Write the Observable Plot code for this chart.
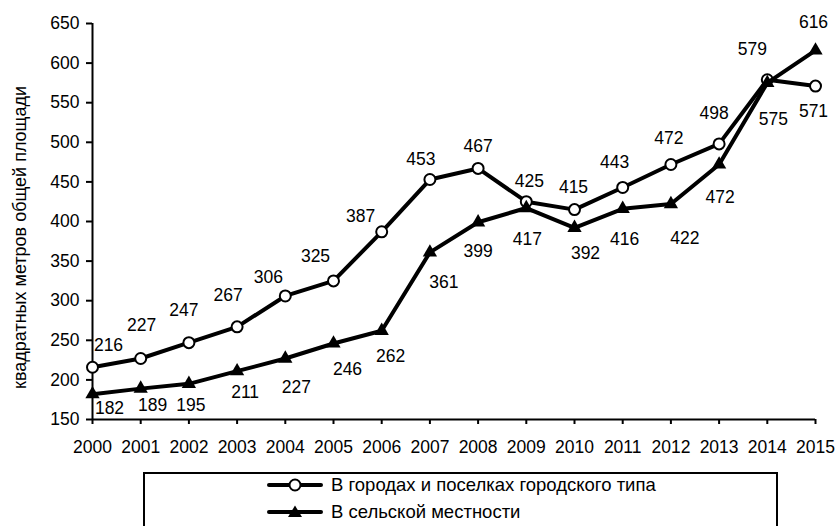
<!DOCTYPE html>
<html>
<head>
<meta charset="utf-8">
<script src="https://cdn.jsdelivr.net/npm/d3@7"></script>
<script src="https://cdn.jsdelivr.net/npm/@observablehq/plot@0.6"></script>
<style>
  body { margin: 0; background: #fff; font-family: "Liberation Sans", Arial, sans-serif; }
  #wrap { position: relative; width: 835px; height: 526px; overflow: hidden; background: #fff; }
  #legend { position: absolute; left: 143px; top: 472px; width: 635px; height: 80px;
            border: 2px solid #000; box-sizing: border-box; background: #fff; }
  .row { position: absolute; left: 122px; height: 20px; display: flex; align-items: center;
         font-size: 18.5px; color: #000; white-space: nowrap; }
  .row svg { margin-right: 8px; }
</style>
</head>
<body>
<div id="wrap"></div>
<script>
// ---- data ----
const years = [2000, 2001, 2002, 2003, 2004, 2005, 2006, 2007, 2008, 2009, 2010, 2011, 2012, 2013, 2014, 2015];
const urban = [216, 227, 247, 267, 306, 325, 387, 453, 467, 425, 415, 443, 472, 498, 579, 571];
const rural = [182, 189, 195, 211, 227, 246, 262, 361, 399, 417, 392, 416, 422, 472, 575, 616];
const yTicks = [150, 200, 250, 300, 350, 400, 450, 500, 550, 600, 650];
const seriesNames = ["В городах и поселках городского типа", "В сельской местности"];
const yTitle = "квадратных метров общей площади";

// ---- label placement (pixel offsets of each value label from its point) ----
const urbanDx = [16, 1, -5, -9, -17, -18, -21, -9, 0, 3, -1, -8, -2, -5, -15, -2];
const urbanDy = [-22, -33, -32, -31, -19, -25, -15, -20, -22, -20, -22, -25, -26, -30, -30, 25];
const ruralDx = [17, 12, 2, 8, 11, 14, 9, 14, 0, 1, 11, 2, 14, 1, 6, -2];
const ruralDy = [14, 17, 22, 21, 29, 26, 26, 30, 29, 31, 26, 31, 34, 33, 36, -28];

const urbanData = years.map((y, i) => ({year: y, value: urban[i]}));
const ruralData = years.map((y, i) => ({year: y, value: rural[i]}));

const FS = 17.5;
const labelMarks = (data, dxs, dys) => data.map((d, i) =>
  Plot.text([d], {x: "year", y: "value", text: d => String(d.value),
    dx: dxs[i], dy: dys[i], fontSize: FS, fill: "#000", textAnchor: "middle", lineAnchor: "middle"}));

const chart = Plot.plot({
  width: 835,
  height: 462,
  marginLeft: 92,
  marginRight: 20,
  marginTop: 23,
  marginBottom: 43,
  style: {fontFamily: "'Liberation Sans', Arial, sans-serif", fontSize: FS + "px", color: "#000", background: "#fff", overflow: "visible"},
  x: {domain: [2000, 2015], label: null},
  y: {domain: [150, 650], label: null},
  marks: [
    Plot.axisX({ticks: years, tickFormat: d => String(d), tickSize: 5, tickPadding: 16, strokeWidth: 2, fontSize: FS, label: null}),
    Plot.axisY({ticks: yTicks, tickSize: 6, tickPadding: 7, strokeWidth: 2, fontSize: FS, label: null}),
    Plot.ruleX([2000], {stroke: "#000", strokeWidth: 2}),
    Plot.ruleY([150], {stroke: "#000", strokeWidth: 2}),
    Plot.text([yTitle], {frameAnchor: "left", rotate: -90, dx: -72, dy: 16, fontSize: 18, fill: "#000", textAnchor: "middle", lineAnchor: "middle"}),
    Plot.line(urbanData, {x: "year", y: "value", stroke: "#000", strokeWidth: 4}),
    Plot.dot(urbanData, {x: "year", y: "value", r: 5.5, fill: "#fff", stroke: "#000", strokeWidth: 2}),
    Plot.line(ruralData, {x: "year", y: "value", stroke: "#000", strokeWidth: 4}),
    Plot.dot(ruralData, {x: "year", y: "value", symbol: "triangle", r: 5.3, fill: "#000", stroke: "none"}),
    ...labelMarks(urbanData, urbanDx, urbanDy),
    ...labelMarks(ruralData, ruralDx, ruralDy)
  ]
});

const wrap = document.getElementById("wrap");
wrap.appendChild(chart);

// ---- legend ----
const legend = document.createElement("div");
legend.id = "legend";
const swatch = (kind) => {
  const s = `<svg width="56" height="16" viewBox="0 0 56 16"><line x1="2" y1="8" x2="54" y2="8" stroke="#000" stroke-width="4" stroke-linecap="round"/>` +
    (kind === 0
      ? `<circle cx="28" cy="8" r="5.5" fill="#fff" stroke="#000" stroke-width="2"/>`
      : `<path d="M28,1.5 L35,13 L21,13 Z" fill="#000"/>`) + `</svg>`;
  return s;
};
seriesNames.forEach((name, i) => {
  const row = document.createElement("div");
  row.className = "row";
  row.style.top = (i === 0 ? 1 : 28) + "px";
  row.innerHTML = swatch(i) + `<span>${name}</span>`;
  legend.appendChild(row);
});
wrap.appendChild(legend);
</script>
</body>
</html>
